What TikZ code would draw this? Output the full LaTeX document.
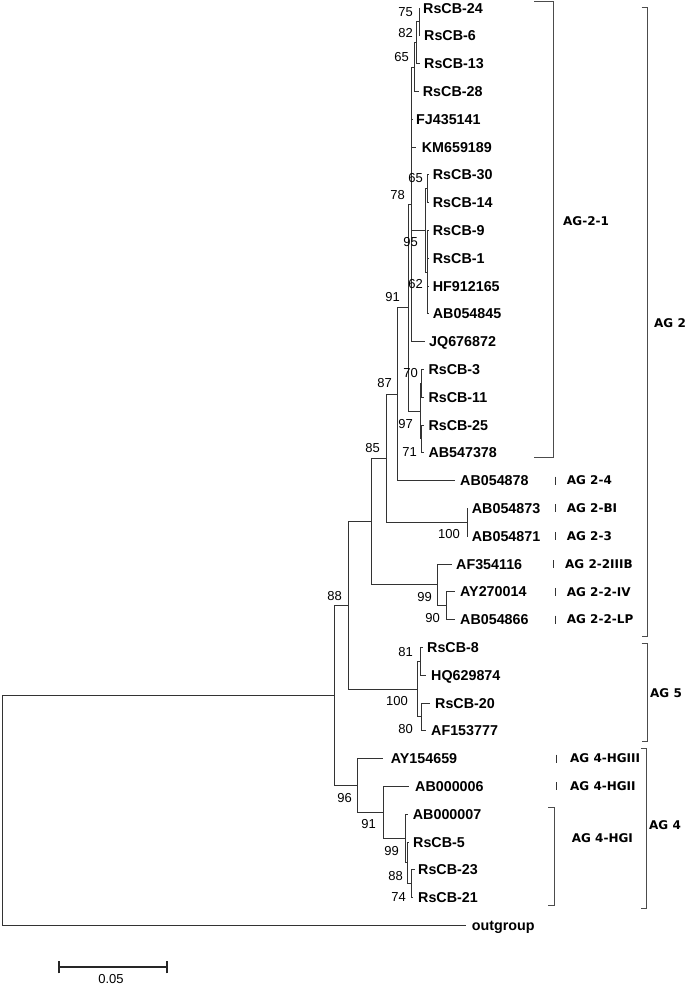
\documentclass[tikz,border=0pt]{standalone}
\usepackage{fontspec}
\setmainfont{Liberation Sans}
\newfontfamily\grpfont{DejaVu Sans}
\begin{document}
\begin{tikzpicture}[x=1pt,y=-1pt,
  br/.style={draw=black!80, line width=0.95pt},
  brk/.style={draw=black!70, line width=0.95pt},
  leaf/.style={anchor=west, inner xsep=#1, inner ysep=0pt, text height=10.2pt, text depth=0pt, font=\fontsize{14.3}{14.3}\selectfont\bfseries},
  leaf/.default=4.5pt,
  bs/.style={anchor=east, inner sep=0pt, text height=9.3pt, text depth=0pt, font=\fontsize{13}{13}\selectfont},
  grp/.style={anchor=west, inner sep=0pt, text height=8.75pt, text depth=0pt, font=\grpfont\bfseries\fontsize{12}{12}\selectfont},
  bar/.style={draw=black!80, line width=0.8pt},
]
\useasboundingbox (0,0) rectangle (685,986);

% ---------- leaves ----------
\node[leaf=3.5pt] (t0) at (419.5,8) {RsCB-24};
\node[leaf=4pt] (t1) at (420,35.8) {RsCB-6};
\node[leaf=4pt] (t2) at (420,63.6) {RsCB-13};
\node[leaf=3.7pt] (t3) at (419,91.4) {RsCB-28};
\node[leaf=4pt] (t4) at (412,119.2) {FJ435141};
\node[leaf=5.7pt] (t5) at (416,147) {KM659189};
\node[leaf=4.2pt] (t6) at (428.5,174.8) {RsCB-30};
\node[leaf=4.2pt] (t7) at (428.5,202.6) {RsCB-14};
\node[leaf=4.2pt] (t8) at (428.5,230.4) {RsCB-9};
\node[leaf=4.2pt] (t9) at (428.5,258.2) {RsCB-1};
\node[leaf=4.2pt] (t10) at (428.5,286) {HF912165};
\node[leaf=4.2pt] (t11) at (428.5,313.8) {AB054845};
\node[leaf=4pt] (t12) at (425,341.6) {JQ676872};
\node[leaf=4.3pt] (t13) at (424,369.4) {RsCB-3};
\node[leaf=4.3pt] (t14) at (424,397.2) {RsCB-11};
\node[leaf=4.3pt] (t15) at (424,425) {RsCB-25};
\node[leaf=4.3pt] (t16) at (424,452.8) {AB547378};
\node[leaf=5pt] (t17) at (455,480.6) {AB054878};
\node[leaf=4.2pt] (t18) at (467.5,508.4) {AB054873};
\node[leaf=4.2pt] (t19) at (467.5,536.2) {AB054871};
\node[leaf=4.3pt] (t20) at (451.7,564) {AF354116};
\node[leaf=5pt] (t21) at (455,591.8) {AY270014};
\node[leaf=5pt] (t22) at (455,619.6) {AB054866};
\node[leaf=4.5pt] (t23) at (422.5,647.4) {RsCB-8};
\node[leaf=5pt] (t24) at (426,675.2) {HQ629874};
\node[leaf=5pt] (t25) at (430,703) {RsCB-20};
\node[leaf=5pt] (t26) at (426,730.8) {AF153777};
\node[leaf=7.7pt] (t27) at (383,758.6) {AY154659};
\node[leaf=6.5pt] (t28) at (408.5,786.4) {AB000006};
\node[leaf=4.7pt] (t29) at (408,814.2) {AB000007};
\node[leaf=4.5pt] (t30) at (408.5,842) {RsCB-5};
\node[leaf=3.5pt] (t31) at (414.5,869.8) {RsCB-23};
\node[leaf=5.5pt] (t32) at (412.5,897.6) {RsCB-21};
\node[leaf=5.7pt] (t33) at (466,925.4) {outgroup};

% ---------- internal nodes ----------
\coordinate (A1) at (419,21.9);
\coordinate (A2) at (416.7,42.75);
\coordinate (A3) at (414.5,67.1);
\coordinate (B30) at (427,188.7);
\coordinate (B9) at (427,272.1);
\coordinate (B) at (425,230.4);
\coordinate (P1) at (411.7,204.35);
\coordinate (C1) at (421.7,383.3);
\coordinate (C2) at (421.7,438.9);
\coordinate (C) at (420.7,411.1);
\coordinate (N78) at (408,307.7);
\coordinate (N91) at (397.5,394.2);
\coordinate (NH) at (467.3,522.3);
\coordinate (N87) at (386.7,458.2);
\coordinate (N90) at (446.7,605.7);
\coordinate (N99) at (437.3,584.85);
\coordinate (N85) at (371.7,521.5);
\coordinate (G5a) at (420.7,661.3);
\coordinate (G5b) at (421.7,716.9);
\coordinate (G5) at (417,689.1);
\coordinate (NX) at (348.3,605.3);
\coordinate (N23) at (411.7,883.7);
\coordinate (N88b) at (407,862.85);
\coordinate (N99b) at (405,838.5);
\coordinate (N91b) at (383.3,812.5);
\coordinate (N96) at (357.7,785.5);
\coordinate (N88) at (334,695.4);
\coordinate (R) at (2,810.4);

% ---------- branches ----------
\foreach \p/\c in {A1/t0.west, A1/t1.west, A2/A1, A2/t2.west, A3/A2, A3/t3.west,
  P1/A3, P1/t4.west, P1/t5.west, P1/B, P1/t12.west,
  B/B30, B/B9, B30/t6.west, B30/t7.west,
  B9/t8.west, B9/t9.west, B9/t10.west, B9/t11.west,
  C1/t13.west, C1/t14.west, C2/t15.west, C2/t16.west, C/C1, C/C2,
  N78/P1, N78/C, N91/N78, N91/t17.west,
  NH/t18.west, NH/t19.west, N87/N91, N87/NH,
  N90/t21.west, N90/t22.west, N99/t20.west, N99/N90,
  N85/N87, N85/N99,
  G5a/t23.west, G5a/t24.west, G5b/t25.west, G5b/t26.west, G5/G5a, G5/G5b,
  NX/N85, NX/G5,
  N23/t31.west, N23/t32.west, N88b/t30.west, N88b/N23,
  N99b/t29.west, N99b/N88b, N91b/t28.west, N91b/N99b,
  N96/t27.west, N96/N91b, N88/NX, N88/N96, R/N88, R/t33.west}
  \draw[br] (\p) |- (\c);

% ---------- bootstrap values ----------
\node[bs] (b1) at (413,12) {75};
\node[bs] (b2) at (413,33) {82};
\node[bs] (b3) at (409,57) {65};
\node[bs] (b4) at (423,178) {65};
\node[bs] (b5) at (405,195) {78};
\node[bs] (b6) at (418,241.7) {95};
\node[bs] (b7) at (423,284) {62};
\node[bs] (b8) at (400,297) {91};
\node[bs] (b9) at (418,373) {70};
\node[bs] (b10) at (392,383) {87};
\node[bs] (b11) at (413,424) {97};
\node[bs] (b12) at (380,448) {85};
\node[bs] (b13) at (417,452) {71};
\node[bs] (b14) at (460,534) {100};
\node[bs] (b15) at (432,597) {99};
\node[bs] (b16) at (342,596) {88};
\node[bs] (b17) at (440,618) {90};
\node[bs] (b18) at (413,652) {81};
\node[bs] (b19) at (408,701) {100};
\node[bs] (b20) at (413,729) {80};
\node[bs] (b21) at (352,798) {96};
\node[bs] (b22) at (376,824) {91};
\node[bs] (b23) at (399,851) {99};
\node[bs] (b24) at (403,876) {88};
\node[bs] (b25) at (406,897) {74};

% ---------- group brackets ----------
\draw[brk] (534,1.5) -| (553,457.7) -- (534,457.7);
\draw[brk] (641.5,7.3) -| (647.3,636) -- (641.5,636);
\draw[brk] (641.5,643.3) -| (647.3,741.7) -- (641.5,741.7);
\draw[brk] (641,748) -| (646.5,908) -- (641,908);
\draw[brk] (548,807) -| (554,905) -- (548,905);

\foreach \x/\y in {555/480.6, 555/508.4, 555/536.2, 553.5/564, 555/591.8, 555/619.6, 556.5/758.6, 556.5/786.4}
  \draw[bar] (\x,\y-4) -- (\x,\y+4);

\node[grp] (g1) at (563,221) {AG-2-1};
\node[grp] (g2) at (654,323) {AG 2};
\node[grp] (g3) at (650,693) {AG 5};
\node[grp] (g4) at (649,825) {AG 4};
\node[grp] (g5) at (566.7,480.6) {AG 2-4};
\node[grp] (g6) at (566.7,508.4) {AG 2-BI};
\node[grp] (g7) at (566.7,536.2) {AG 2-3};
\node[grp] (g8) at (565,564) {AG 2-2IIIB};
\node[grp] (g9) at (566.7,591.8) {AG 2-2-IV};
\node[grp] (g10) at (566.7,619.6) {AG 2-2-LP};
\node[grp] (g11) at (570,758.6) {AG 4-HGIII};
\node[grp] (g12) at (570,786.4) {AG 4-HGII};
\node[grp] (g13) at (571.7,838) {AG 4-HGI};

% ---------- scale bar ----------
\coordinate (s1) at (59.3,967.3);
\coordinate (s2) at (166.7,967.3);
\draw[draw=black!85, line width=2pt] (s1) -- (s2);
\draw[draw=black!85, line width=2pt] ([yshift=-6pt]s1) -- ([yshift=6pt]s1);
\draw[draw=black!85, line width=2pt] ([yshift=-6pt]s2) -- ([yshift=6pt]s2);
\node[bs, anchor=center] (sl) at (111,979) {0.05};
\end{tikzpicture}
\end{document}
